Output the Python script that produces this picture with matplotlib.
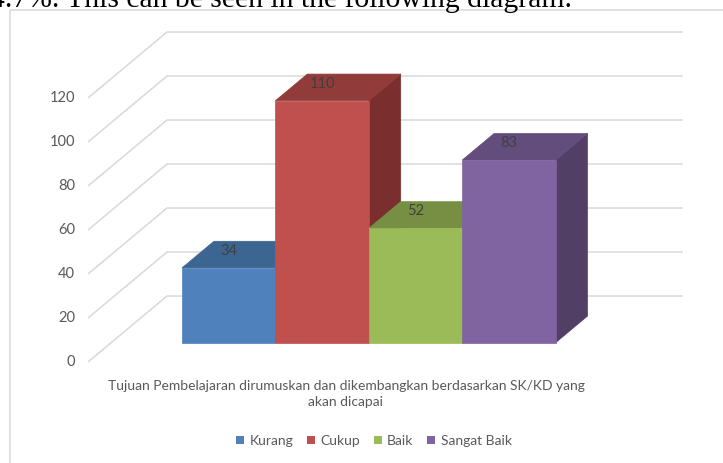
import matplotlib
matplotlib.use("Agg")
import matplotlib.pyplot as plt
from matplotlib.patches import Polygon, Patch
from matplotlib.lines import Line2D

# ---------------- data ----------------
categories = ["Kurang", "Cukup", "Baik", "Sangat Baik"]
values = [34, 110, 52, 83]
yticks = [0, 20, 40, 60, 80, 100, 120]
axis_title = "Tujuan Pembelajaran dirumuskan dan dikembangkan berdasarkan SK/KD yang\nakan dicapai"
top_text = "4.7%. This can be seen in the following diagram."

# ---------------- styles ----------------
front_colors = ["#4f81bd", "#c0504d", "#9bbb59", "#8064a2"]
top_colors = ["#3d6591", "#913c3a", "#778f43", "#634d7d"]
side_colors = ["#2f4f72", "#7a2f2e", "#5e7235", "#523f66"]
grid_color = "#d9d9d9"
text_color = "#595959"
label_color = "#404040"
FONT = "Lato"

W, H = 723, 463
fig = plt.figure(figsize=(W / 100, H / 100), dpi=100)
ax = fig.add_axes([0, 0, 1, 1])
ax.axis("off")

# oblique projection parameters (depth direction)
DX, DY = 0.846, 30.0
ZF, ZB = 0.292, 0.696      # bar front / back depth
XL, XR = -1.259, 4.265     # side wall positions

ax.set_xlim(-2.2013, 5.5396)
ax.set_ylim(-45.91, 164.55)


def proj(x, y, z):
    return (x + z * DX, y + z * DY)


# gridlines (left wall diagonal + back wall horizontal)
for v in yticks:
    p0 = proj(XL, v, 0)
    p1 = proj(XL, v, 1)
    p2 = proj(XR, v, 1)
    ax.plot([p0[0], p1[0], p2[0]], [p0[1], p1[1], p2[1]],
            color=grid_color, lw=1.1, zorder=1, solid_capstyle="butt")
    ax.text(XL - 0.14, v, str(v), ha="right", va="center",
            color=text_color, fontsize=10.5, family=FONT)

# bars
for i, (v, fc, tc, sc) in enumerate(zip(values, front_colors, top_colors, side_colors)):
    x0, x1 = i - 0.5, i + 0.5
    side = [proj(x1, 0, ZF), proj(x1, 0, ZB), proj(x1, v, ZB), proj(x1, v, ZF)]
    top = [proj(x0, v, ZF), proj(x1, v, ZF), proj(x1, v, ZB), proj(x0, v, ZB)]
    front = [proj(x0, 0, ZF), proj(x1, 0, ZF), proj(x1, v, ZF), proj(x0, v, ZF)]
    z = 2 + i * 3
    ax.add_patch(Polygon(side, closed=True, facecolor=sc, edgecolor=sc, lw=0.5, zorder=z))
    ax.add_patch(Polygon(top, closed=True, facecolor=tc, edgecolor=tc, lw=0.5, zorder=z + 1))
    ax.add_patch(Polygon(front, closed=True, facecolor=fc, edgecolor=fc, lw=0.5, zorder=z + 2))
    lx, ly = proj(i, v, ZF)
    ax.text(lx, ly + 7.7, str(v), ha="center", va="center",
            color=label_color, fontsize=10.5, family=FONT, zorder=20)

# axis title
fig.text(346 / W, 1 - 394 / H, axis_title, ha="center", va="center",
         color=text_color, fontsize=10, family=FONT, linespacing=1.5)

# legend
handles = [Patch(facecolor=c, edgecolor="none") for c in front_colors]
leg = fig.legend(handles, categories, loc="center", ncol=4,
                 bbox_to_anchor=(374 / W, 1 - 441 / H), frameon=False,
                 prop={"family": FONT, "size": 10},
                 handlelength=0.55, handleheight=0.55, handletextpad=0.4,
                 columnspacing=1.0, borderaxespad=0, borderpad=0)
for t in leg.get_texts():
    t.set_color(text_color)

# chart frame
fig.add_artist(Line2D([10 / W, 10 / W, 1.0], [0.0, 1 - 10 / H, 1 - 10 / H],
                      transform=fig.transFigure, color=grid_color, lw=1.1))

# document text above the chart (cut at the top)
fig.text(-9.5 / W, 1 - 7 / H, top_text, ha="left", va="baseline",
         family="Liberation Serif", fontsize=21.3, color="black")

fig.savefig("out.png", dpi=100)
